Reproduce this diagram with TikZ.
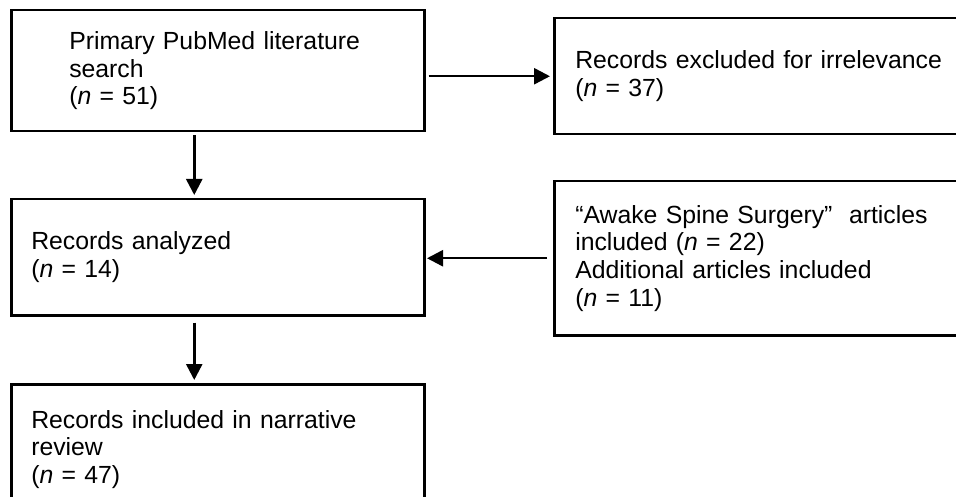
\documentclass[tikz,border=0pt]{standalone}
\usepackage{fontspec}
\setmainfont{Liberation Sans}
\usetikzlibrary{arrows.meta}

\begin{document}
\begin{tikzpicture}[x=1pt, y=-1pt, ->, >={Triangle[length=16pt, width=16pt]},
    line width=2.5pt,
    record/.style={draw, anchor=north west, align=left, inner ysep=0pt,
      font=\fontsize{24.8}{27.6}\selectfont}]
    \useasboundingbox (0,0) rectangle (956,497);
    \clip (0,0) rectangle (956,497);
    % left column
    \node[record, text width=297pt, inner xsep=58pt, minimum height=121pt] (search) at (10,9)
      {Primary PubMed literature\\search\\(\textit{n} = 51)};
    \node[record, text width=373pt, inner xsep=20pt, minimum height=116pt] (analyzed) at (10,198)
      {Records analyzed\\(\textit{n} = 14)};
    \node[record, text width=373pt, inner xsep=20pt, minimum height=130pt] (review) at (10,383)
      {Records included in narrative\\review\\(\textit{n} = 47)};
    % right column
    \node[record, text width=404pt, inner xsep=21pt, minimum height=116pt] (excluded) at (553,17)
      {Records excluded for irrelevance\\(\textit{n} = 37)};
    \node[record, text width=404pt, inner xsep=21pt, minimum height=154pt] (added) at (553,180)
      {“Awake Spine Surgery”\ \ articles\\included (\textit{n} = 22)\\Additional articles included\\(\textit{n} = 11)};
    % connectors
    \draw[shorten <=3pt, shorten >=3pt] (search.east |- excluded.west) -- (excluded.west);
    \draw[shorten <=3pt, shorten >=3pt] ([xshift=-23.5pt]search.south) -- ([xshift=-23.5pt]analyzed.north);
    \draw[shorten <=6pt, shorten >=1.5pt] (added.west) -- (analyzed.east |- added.west);
    \draw[shorten <=6pt, shorten >=3pt] ([xshift=-23.5pt]analyzed.south) -- ([xshift=-23.5pt]review.north);
\end{tikzpicture}
\end{document}
